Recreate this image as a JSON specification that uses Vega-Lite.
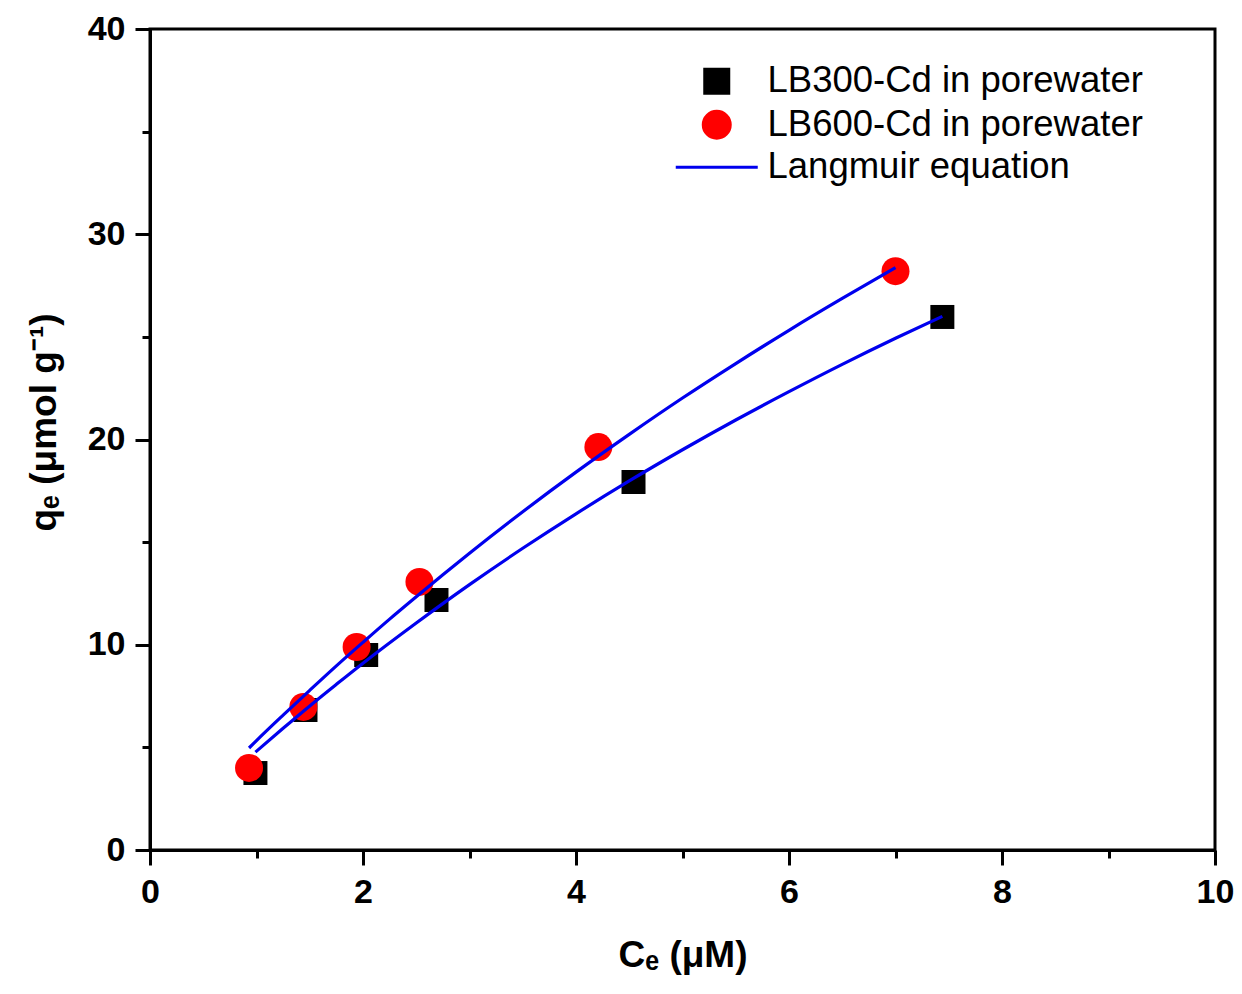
{
  "$schema": "https://vega.github.io/schema/vega-lite/v6.json",
  "autosize": "none",
  "width": 1065,
  "height": 821,
  "padding": {"left": 150, "top": 29, "right": 27, "bottom": 144},
  "background": "white",
  "config": {
    "view": {"stroke": "black", "strokeWidth": 3},
    "font": "Liberation Sans",
    "axis": {
      "domainColor": "black",
      "domainWidth": 3,
      "tickColor": "black",
      "tickWidth": 3,
      "grid": false,
      "labelFlush": false,
      "labelFont": "Liberation Sans",
      "labelFontWeight": "bold",
      "labelFontSize": 34,
      "labelColor": "black",
      "titleFont": "Liberation Sans",
      "titleFontWeight": "bold",
      "titleFontSize": 37,
      "titleColor": "black"
    },
    "legend": {
      "labelFont": "Liberation Sans",
      "labelFontSize": 36.5,
      "labelColor": "black",
      "labelLimit": 600
    }
  },
  "datasets": {
    "measured": [
      {"series": "LB300-Cd in porewater", "ce": 0.99, "qe": 3.75},
      {"series": "LB300-Cd in porewater", "ce": 1.46, "qe": 6.82},
      {"series": "LB300-Cd in porewater", "ce": 2.03, "qe": 9.5},
      {"series": "LB300-Cd in porewater", "ce": 2.69, "qe": 12.18},
      {"series": "LB300-Cd in porewater", "ce": 4.54, "qe": 17.93},
      {"series": "LB300-Cd in porewater", "ce": 7.44, "qe": 25.97},
      {"series": "LB600-Cd in porewater", "ce": 0.93, "qe": 4.0},
      {"series": "LB600-Cd in porewater", "ce": 1.44, "qe": 6.97},
      {"series": "LB600-Cd in porewater", "ce": 1.94, "qe": 9.89},
      {"series": "LB600-Cd in porewater", "ce": 2.53, "qe": 13.06},
      {"series": "LB600-Cd in porewater", "ce": 4.21, "qe": 19.63},
      {"series": "LB600-Cd in porewater", "ce": 7.0, "qe": 28.2}
    ],
    "fitted": [
      {"series": "Langmuir equation", "curve": "LB600", "ce": 0.93, "qe": 4.97},
      {"series": "Langmuir equation", "curve": "LB600", "ce": 1.0, "qe": 5.33},
      {"series": "Langmuir equation", "curve": "LB600", "ce": 1.25, "qe": 6.57},
      {"series": "Langmuir equation", "curve": "LB600", "ce": 1.5, "qe": 7.78},
      {"series": "Langmuir equation", "curve": "LB600", "ce": 1.75, "qe": 8.97},
      {"series": "Langmuir equation", "curve": "LB600", "ce": 2.0, "qe": 10.12},
      {"series": "Langmuir equation", "curve": "LB600", "ce": 2.25, "qe": 11.25},
      {"series": "Langmuir equation", "curve": "LB600", "ce": 2.5, "qe": 12.34},
      {"series": "Langmuir equation", "curve": "LB600", "ce": 2.75, "qe": 13.41},
      {"series": "Langmuir equation", "curve": "LB600", "ce": 3.0, "qe": 14.46},
      {"series": "Langmuir equation", "curve": "LB600", "ce": 3.5, "qe": 16.48},
      {"series": "Langmuir equation", "curve": "LB600", "ce": 4.0, "qe": 18.41},
      {"series": "Langmuir equation", "curve": "LB600", "ce": 4.5, "qe": 20.25},
      {"series": "Langmuir equation", "curve": "LB600", "ce": 5.0, "qe": 22.02},
      {"series": "Langmuir equation", "curve": "LB600", "ce": 5.5, "qe": 23.7},
      {"series": "Langmuir equation", "curve": "LB600", "ce": 6.0, "qe": 25.32},
      {"series": "Langmuir equation", "curve": "LB600", "ce": 6.5, "qe": 26.87},
      {"series": "Langmuir equation", "curve": "LB600", "ce": 7.0, "qe": 28.37},
      {"series": "Langmuir equation", "curve": "LB300", "ce": 0.99, "qe": 4.77},
      {"series": "Langmuir equation", "curve": "LB300", "ce": 1.25, "qe": 5.93},
      {"series": "Langmuir equation", "curve": "LB300", "ce": 1.5, "qe": 7.02},
      {"series": "Langmuir equation", "curve": "LB300", "ce": 1.75, "qe": 8.07},
      {"series": "Langmuir equation", "curve": "LB300", "ce": 2.0, "qe": 9.1},
      {"series": "Langmuir equation", "curve": "LB300", "ce": 2.5, "qe": 11.06},
      {"series": "Langmuir equation", "curve": "LB300", "ce": 3.0, "qe": 12.93},
      {"series": "Langmuir equation", "curve": "LB300", "ce": 3.5, "qe": 14.7},
      {"series": "Langmuir equation", "curve": "LB300", "ce": 4.0, "qe": 16.38},
      {"series": "Langmuir equation", "curve": "LB300", "ce": 4.5, "qe": 17.98},
      {"series": "Langmuir equation", "curve": "LB300", "ce": 5.0, "qe": 19.5},
      {"series": "Langmuir equation", "curve": "LB300", "ce": 5.5, "qe": 20.95},
      {"series": "Langmuir equation", "curve": "LB300", "ce": 6.0, "qe": 22.33},
      {"series": "Langmuir equation", "curve": "LB300", "ce": 6.5, "qe": 23.66},
      {"series": "Langmuir equation", "curve": "LB300", "ce": 7.0, "qe": 24.93},
      {"series": "Langmuir equation", "curve": "LB300", "ce": 7.44, "qe": 26.0}
    ]
  },
  "encoding": {
    "x": {
      "field": "ce",
      "type": "quantitative",
      "scale": {"domain": [0, 10], "nice": false, "zero": false},
      "axis": {
        "title": "Cₑ (μM)",
        "values": [0, 1, 2, 3, 4, 5, 6, 7, 8, 9, 10],
        "labelExpr": "datum.value % 2 === 0 ? datum.label : ''",
        "tickSize": {"condition": {"test": "datum.value % 2 !== 0", "value": 8}, "value": 15},
        "labelPadding": 10,
        "titlePadding": 28
      }
    },
    "y": {
      "field": "qe",
      "type": "quantitative",
      "scale": {"domain": [0, 40], "nice": false, "zero": false},
      "axis": {
        "title": "qₑ (μmol g⁻¹)",
        "values": [0, 5, 10, 15, 20, 25, 30, 35, 40],
        "labelExpr": "datum.value % 10 === 0 ? datum.label : ''",
        "tickSize": {"condition": {"test": "datum.value % 10 !== 0", "value": 8}, "value": 15},
        "labelPadding": 10,
        "titlePadding": 24,
        "titleY": 393
      }
    },
    "color": {
      "field": "series",
      "type": "nominal",
      "scale": {
        "domain": ["LB300-Cd in porewater", "LB600-Cd in porewater", "Langmuir equation"],
        "range": ["#000000", "#ff0000", "#0000ee"]
      },
      "legend": {
        "title": null,
        "orient": "none",
        "legendX": 548.5,
        "legendY": 34,
        "padding": 0,
        "rowPadding": 4.5,
        "labelOffset": 32.5,
        "symbolStrokeWidth": 3,
        "encode": {
          "symbols": {
            "update": {
              "size": {"signal": "datum.value === 'Langmuir equation' ? 6724 : (datum.value === 'LB300-Cd in porewater' ? 576 : 729)"},
              "stroke": {"signal": "datum.value === 'Langmuir equation' ? '#0000ee' : 'transparent'"},
              "strokeWidth": {"value": 3}
            }
          }
        }
      }
    }
  },
  "layer": [
    {
      "data": {"name": "measured"},
      "transform": [{"filter": "datum.series === 'LB300-Cd in porewater'"}],
      "mark": {"type": "point", "filled": true, "opacity": 1, "size": 576},
      "encoding": {
        "shape": {
          "field": "series",
          "type": "nominal",
          "scale": {
            "domain": ["LB300-Cd in porewater", "LB600-Cd in porewater", "Langmuir equation"],
            "range": ["square", "circle", "stroke"]
          },
          "legend": {"title": null}
        }
      }
    },
    {
      "data": {"name": "measured"},
      "transform": [{"filter": "datum.series === 'LB600-Cd in porewater'"}],
      "mark": {"type": "point", "filled": true, "opacity": 1, "size": 784},
      "encoding": {
        "shape": {"field": "series", "type": "nominal", "legend": {"title": null}}
      }
    },
    {
      "data": {"name": "fitted"},
      "mark": {"type": "line", "strokeWidth": 3.2, "interpolate": "monotone"},
      "encoding": {
        "detail": {"field": "curve"}
      }
    }
  ]
}
